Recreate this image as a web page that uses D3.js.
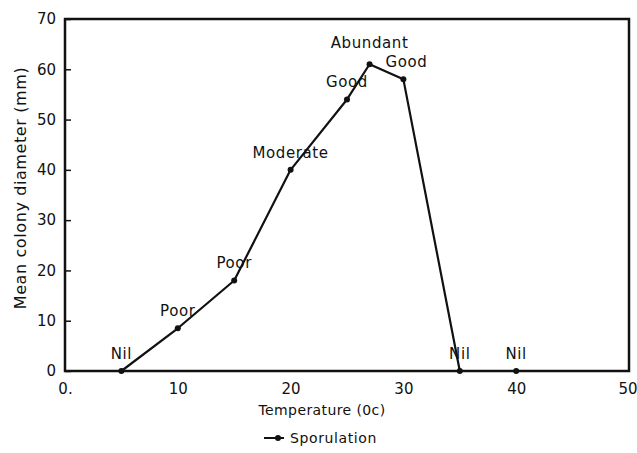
<!DOCTYPE html>
<html><head><meta charset="utf-8">
<script src="https://cdn.jsdelivr.net/npm/d3@7"></script>
<style>body{margin:0;background:#fff}svg{display:block}text{font-family:"DejaVu Sans",sans-serif;fill:#111}</style>
</head><body><svg id="c" width="637" height="453"></svg>
<script>
const temperature = [5, 10, 15, 20, 25, 27, 30, 35, 40];
const diameter = [0, 8.5, 18, 40, 54, 61, 58, 0, 0];
const sporulation = ["Nil", "Poor", "Poor", "Moderate", "Good", "Abundant", "Good", "Nil", "Nil"];
const xTicks = [0, 10, 20, 30, 40, 50];
const xTickLabels = ["0.", "10", "20", "30", "40", "50"];
const yTicks = [0, 10, 20, 30, 40, 50, 60, 70];

const svg = d3.select("#c");
const x = d3.scaleLinear().domain([0, 50]).range([65, 629]);
const y = d3.scaleLinear().domain([0, 70]).range([371, 19]);

// frame
svg.append("rect").attr("x", x(0)).attr("y", y(70)).attr("width", x(50) - x(0)).attr("height", y(0) - y(70))
  .attr("fill", "none").attr("stroke", "#111").attr("stroke-width", 2.5);

// y axis ticks (inward)
const ya = svg.append("g").attr("transform", `translate(${x(0)},0)`)
  .call(d3.axisRight(y).tickValues(yTicks).tickSize(6).tickFormat(""));
ya.select(".domain").remove();
ya.selectAll("line").attr("stroke", "#111").attr("stroke-width", 1.5);
svg.append("g").selectAll("text").data(yTicks).join("text")
  .attr("x", 56).attr("y", d => y(d)).attr("dy", "0.35em").attr("text-anchor", "end")
  .attr("font-size", 15).text(d => d);

// x axis labels
const xa = svg.append("g").attr("transform", `translate(0,${y(0)})`)
  .call(d3.axisBottom(x).tickValues(xTicks).tickSize(0).tickPadding(12).tickFormat((d, i) => xTickLabels[i]));
xa.select(".domain").remove();
xa.selectAll("text").attr("font-size", 15).attr("fill", "#111").attr("font-family", '"DejaVu Sans",sans-serif')
  .attr("text-anchor", (d, i) => i === xTicks.length - 1 ? "end" : "middle")
  .attr("dx", (d, i) => i === xTicks.length - 1 ? 8 : 0);

// line
const pts = temperature.map((t, i) => ({ t, d: diameter[i], s: sporulation[i] }));
svg.append("path").datum(pts)
  .attr("d", d3.line().x(p => x(p.t)).y(p => y(p.d)))
  .attr("fill", "none").attr("stroke", "#111").attr("stroke-width", 2.2).attr("stroke-linejoin", "round");
svg.append("g").selectAll("circle").data(pts).join("circle")
  .attr("cx", p => x(p.t)).attr("cy", p => y(p.d)).attr("r", 3).attr("fill", "#111");
// the peak label sits a little higher so it clears its neighbour
const peak = d3.maxIndex(pts, p => p.d);
svg.append("g").selectAll("text").data(pts).join("text")
  .attr("x", (p, i) => x(p.t) + (i === peak + 1 ? 3 : 0))
  .attr("y", (p, i) => y(p.d) - (i === peak ? 16 : 12)).attr("text-anchor", "middle")
  .attr("font-size", 15).attr("letter-spacing", 0.6).text(p => p.s);

// axis titles
svg.append("text").attr("x", 322).attr("y", 415).attr("text-anchor", "middle").attr("font-size", 14)
  .attr("letter-spacing", 0.4).text("Temperature (0c)");
svg.append("text").attr("transform", "translate(26,188) rotate(-90)").attr("text-anchor", "middle")
  .attr("font-size", 16).attr("letter-spacing", 0.6).text("Mean colony diameter (mm)");

// legend
svg.append("line").attr("x1", 264).attr("x2", 284).attr("y1", 438).attr("y2", 438).attr("stroke", "#111").attr("stroke-width", 2);
svg.append("circle").attr("cx", 278).attr("cy", 438).attr("r", 3).attr("fill", "#111");
svg.append("text").attr("x", 290).attr("y", 443).attr("font-size", 14).attr("letter-spacing", 0.6).text("Sporulation");
</script></body></html>
